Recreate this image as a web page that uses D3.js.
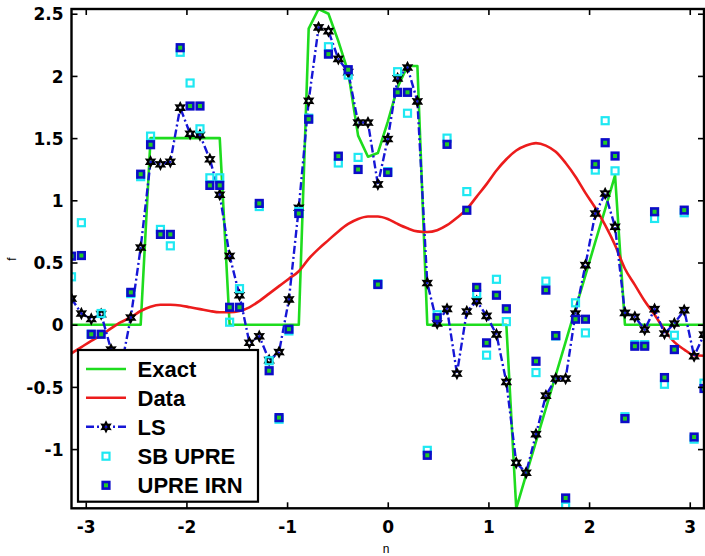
<!DOCTYPE html>
<html>
<head>
<meta charset="utf-8">
<script src="https://cdn.jsdelivr.net/npm/d3@7/dist/d3.min.js"></script>
<style>
  html, body { margin: 0; padding: 0; background: #fff; }
  svg { display: block; }
</style>
</head>
<body>
<svg id="chart" width="705" height="556"></svg>
<script>
// ---------------- DATA ----------------
const xGrid = [-3.1416,-3.0434,-2.9452,-2.8471,-2.7489,-2.6507,-2.5525,-2.4544,-2.3562,-2.2580,
  -2.1598,-2.0617,-1.9635,-1.8653,-1.7671,-1.6690,-1.5708,-1.4726,-1.3744,-1.2763,
  -1.1781,-1.0799,-0.9817,-0.8836,-0.7854,-0.6872,-0.5890,-0.4909,-0.3927,-0.2945,
  -0.1963,-0.0982,0,0.0982,0.1963,0.2945,0.3927,0.4909,0.5890,0.6872,
  0.7854,0.8836,0.9817,1.0799,1.1781,1.2763,1.3744,1.4726,1.5708,1.6690,
  1.7671,1.8653,1.9635,2.0617,2.1598,2.2580,2.3562,2.4544,2.5525,2.6507,
  2.7489,2.8471,2.9452,3.0434,3.1416];

const exact = [0,0,0,0,0,0,0,0,1.5,1.5,
  1.5,1.5,1.5,1.5,1.5,1.5,0,0,0,0,
  0,0,0,0,2.38,2.538,2.50,2.28,2.03,1.52,
  1.35,1.38,1.63,1.91,2.08,2.08,0,0,0,0,
  0,0,0,0,0,-1.476,-1.208,-0.94,-0.673,-0.405,
  -0.138,0.13,0.397,0.665,0.93,1.2,0,0,0,0,
  0,0,0,0,0];

const dataVals = [-0.23,-0.18,-0.13,-0.085,-0.03,0.02,0.06,0.11,0.145,0.16,
  0.16,0.155,0.14,0.125,0.11,0.10,0.10,0.11,0.14,0.19,
  0.25,0.31,0.37,0.43,0.53,0.61,0.68,0.75,0.81,0.85,
  0.87,0.87,0.85,0.81,0.775,0.75,0.745,0.76,0.80,0.86,
  0.93,1.03,1.13,1.24,1.33,1.40,1.44,1.46,1.44,1.39,
  1.30,1.19,1.06,0.94,0.80,0.64,0.45,0.32,0.19,0.08,
  -0.04,-0.14,-0.20,-0.245,-0.25];

const ls = [0.21,0.09,0.046,0.085,-0.20,-0.35,0.058,0.62,1.31,1.29,
  1.31,1.745,1.535,1.525,1.33,1.045,0.553,0.237,-0.145,-0.093,
  -0.285,-0.22,0.203,0.94,1.80,2.39,2.36,2.137,2.03,1.625,
  1.625,1.128,1.493,1.98,2.068,1.795,0.335,0.01,0.127,-0.393,
  0.106,0.19,0.071,-0.078,-0.46,-1.11,-1.19,-0.88,-0.57,-0.433,
  -0.433,0.09,0.479,0.894,1.055,0.787,0.095,0.063,-0.039,0.125,
  -0.071,0.01,0.117,-0.253,-0.08];

const sbUpre = [0.385,0.82,-0.077,0.09,-0.5,-0.5,0.25,1.19,1.516,0.766,
  0.634,2.19,1.943,1.575,1.181,1.181,0.02,0.29,-0.5,0.95,
  -0.29,-0.76,-0.05,0.91,1.66,2.8,2.235,1.30,2.007,1.345,
  -1.7,0.33,1.23,2.034,1.70,2.8,-1.01,0.08,1.50,-1.7,
  1.07,0.25,-0.245,0.365,0.025,-1.7,-1.7,-0.385,0.35,-0.09,
  -1.46,0.176,-0.066,1.243,1.64,1.237,-0.74,-0.16,-0.16,0.854,
  -0.479,-0.085,0.90,-0.92,-0.47];

const upreIrn = [0.551,0.556,-0.077,-0.077,-0.5,-0.5,0.26,1.21,1.447,0.726,
  0.726,2.227,1.758,1.758,1.12,1.12,0.14,0.14,-0.5,0.975,
  -0.37,-0.747,-0.036,0.894,1.652,2.8,2.175,1.355,2.05,1.248,
  -1.7,0.323,1.224,1.868,1.868,2.8,-1.05,0.056,1.45,-1.7,
  0.92,0.30,-0.146,0.237,0.128,-1.7,-1.7,-0.294,0.278,-0.088,
  -1.393,0.044,0.044,1.29,1.463,1.356,-0.755,-0.173,-0.173,0.908,
  -0.425,-0.2,0.921,-0.903,-0.513];

const xTicks = [-3,-2,-1,0,1,2,3];
const yTicks = [-1,-0.5,0,0.5,1,1.5,2,2.5];
const legendLabels = ["Exact","Data","LS","SB UPRE","UPRE IRN"];
const xLabel = "n";
const yLabel = "f";

// ---------------- LAYOUT ----------------
const svg = d3.select("#chart");
svg.append("rect").attr("width",705).attr("height",556).attr("fill","#fff");

const L = 71.5, R = 704, T = 9, B = 508.3;
const x = d3.scaleLinear().domain([-Math.PI, Math.PI]).range([L, R]);
const y = d3.scaleLinear().domain([-1.476, 2.538]).range([B, T]);

const colors = {
  exact: "#1edc1e",
  data: "#ec1c1c",
  ls: "#1616d6",
  cyan: "#1ee8f2",
  blue: "#0c0cc8",
  fill: "#22cc22"
};

svg.append("defs").append("clipPath").attr("id","plotclip")
  .append("rect").attr("x",L).attr("y",T).attr("width",R-L).attr("height",B-T);

const plot = svg.append("g").attr("clip-path","url(#plotclip)");

const idx = d3.range(xGrid.length);
const line = arr => d3.line().x(i => x(xGrid[i])).y(i => y(arr[i]));

// Exact
plot.append("path").attr("d", line(exact)(idx))
  .attr("fill","none").attr("stroke",colors.exact).attr("stroke-width",2.6)
  .attr("stroke-linejoin","round");
// Data
plot.append("path").attr("d", d3.line().curve(d3.curveMonotoneX).x(i => x(xGrid[i])).y(i => y(dataVals[i]))(idx))
  .attr("fill","none").attr("stroke",colors.data).attr("stroke-width",2.6);
// LS line
plot.append("path").attr("d", line(ls)(idx))
  .attr("fill","none").attr("stroke",colors.ls).attr("stroke-width",2.4)
  .attr("stroke-dasharray","8,3,2,3");

// hexagram marker path
function hexagram(Ro, Ri) {
  const pts = [];
  for (let k = 0; k < 12; k++) {
    const a = -Math.PI/2 + k*Math.PI/6;
    const r = (k % 2 === 0) ? Ro : Ri;
    pts.push([r*Math.cos(a), r*Math.sin(a)]);
  }
  return "M" + pts.map(p => p[0].toFixed(2)+","+p[1].toFixed(2)).join("L") + "Z";
}
const starPath = hexagram(4.3, 2.3);

function drawStar(sel) {
  sel.attr("d", starPath).attr("fill","none").attr("stroke","#000")
    .attr("stroke-width",2.1).attr("stroke-linejoin","miter");
}

plot.append("g").selectAll("path").data(idx).join("path")
  .call(drawStar)
  .attr("transform", i => `translate(${x(xGrid[i])},${y(ls[i])})`);

// SB UPRE squares
plot.append("g").selectAll("rect").data(idx).join("rect")
  .attr("x", i => x(xGrid[i]) - 3.5).attr("y", i => y(sbUpre[i]) - 3.5)
  .attr("width",7).attr("height",7)
  .attr("fill","none").attr("stroke",colors.cyan).attr("stroke-width",2.2);

// UPRE IRN squares
plot.append("g").selectAll("rect").data(idx).join("rect")
  .attr("x", i => x(xGrid[i]) - 3.3).attr("y", i => y(upreIrn[i]) - 3.3)
  .attr("width",6.6).attr("height",6.6)
  .attr("fill",colors.fill).attr("stroke",colors.blue).attr("stroke-width",2.6);

// ---------------- AXES ----------------
const tickFont = "'DejaVu Sans', sans-serif";
const fmt = d => String(d).replace("−","-");

const axB = svg.append("g").attr("transform",`translate(0,${B})`)
  .call(d3.axisBottom(x).tickValues(xTicks).tickSizeInner(-6).tickSizeOuter(0).tickPadding(12.5).tickFormat(fmt));
const axT = svg.append("g").attr("transform",`translate(0,${T})`)
  .call(d3.axisTop(x).tickValues(xTicks).tickSizeInner(-6).tickSizeOuter(0).tickFormat(""));
const axL = svg.append("g").attr("transform",`translate(${L},0)`)
  .call(d3.axisLeft(y).tickValues(yTicks).tickSizeInner(-6).tickSizeOuter(0).tickPadding(8).tickFormat(fmt));
const axR = svg.append("g").attr("transform",`translate(${R},0)`)
  .call(d3.axisRight(y).tickValues(yTicks).tickSizeInner(-6).tickSizeOuter(0).tickFormat(""));

[axB, axT, axL, axR].forEach(g => {
  g.select(".domain").remove();
  g.selectAll(".tick line").attr("stroke","#000").attr("stroke-width",1.6);
  g.selectAll(".tick text").attr("fill","#000")
    .style("font-family", tickFont).style("font-weight","bold").style("font-size","17px");
});
axL.selectAll(".tick text").attr("dy","0.36em");

// frame
svg.append("rect").attr("x",L).attr("y",T).attr("width",R-L).attr("height",B-T)
  .attr("fill","none").attr("stroke","#000").attr("stroke-width",2.4);

// axis labels
svg.append("text").attr("x",386).attr("y",553).attr("text-anchor","middle")
  .style("font-family","'Liberation Sans', Arial, sans-serif").style("font-size","12px")
  .text(xLabel);
svg.append("text").attr("transform","translate(16,259) rotate(-90)").attr("text-anchor","middle")
  .style("font-family","'Liberation Sans', Arial, sans-serif").style("font-size","12px")
  .text(yLabel);

// ---------------- LEGEND ----------------
const lg = svg.append("g");
lg.append("rect").attr("x",78).attr("y",350).attr("width",180).attr("height",151.7)
  .attr("fill","#fff").attr("stroke","#000").attr("stroke-width",2.2);
const rowY = [369, 397.8, 426.8, 456.2, 485.3];
const lx0 = 86, lx1 = 126, lxm = 106, tx = 137.5;
legendLabels.forEach((lab, k) => {
  const yy = rowY[k];
  if (k === 0) lg.append("line").attr("x1",lx0).attr("x2",lx1).attr("y1",yy).attr("y2",yy)
      .attr("stroke",colors.exact).attr("stroke-width",2.6);
  if (k === 1) lg.append("line").attr("x1",lx0).attr("x2",lx1).attr("y1",yy).attr("y2",yy)
      .attr("stroke",colors.data).attr("stroke-width",2.6);
  if (k === 2) {
    lg.append("line").attr("x1",lx0).attr("x2",lx1).attr("y1",yy).attr("y2",yy)
      .attr("stroke",colors.ls).attr("stroke-width",2.4).attr("stroke-dasharray","8,3,2,3");
    lg.append("path").call(drawStar).attr("transform",`translate(${lxm},${yy})`);
  }
  if (k === 3) lg.append("rect").attr("x",lxm-3.5).attr("y",yy-3.5).attr("width",7).attr("height",7)
      .attr("fill","none").attr("stroke",colors.cyan).attr("stroke-width",2.2);
  if (k === 4) lg.append("rect").attr("x",lxm-3.3).attr("y",yy-3.3).attr("width",6.6).attr("height",6.6)
      .attr("fill",colors.fill).attr("stroke",colors.blue).attr("stroke-width",2.6);
  lg.append("text").attr("x",tx).attr("y",yy+7.8)
    .style("font-family","'Liberation Sans', Arial, sans-serif").style("font-weight","bold")
    .style("font-size","22px").attr("fill","#000").text(lab);
});
</script>
</body>
</html>
